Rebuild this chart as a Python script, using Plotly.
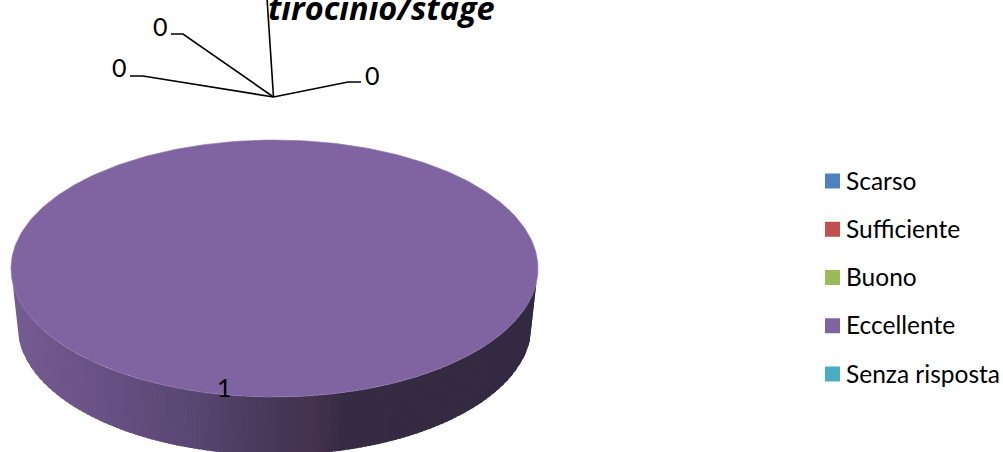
import numpy as np
import plotly.graph_objects as go

categories = ["Scarso", "Sufficiente", "Buono", "Eccellente", "Senza risposta"]
values = [0, 0, 0, 1, 0]
colors = ["#4F81BD", "#C0504D", "#9BBB59", "#8064A2", "#4BACC6"]
title_text = "tirocinio/stage"

W, H = 1003, 452
CX, CY, RX, RY = 274.5, 268.5, 263.5, 128.5
BCX, BCY, BRX, BRY = 274.5, 326, 257, 129
FONT = "Lato, Carlito, Calibri, sans-serif"

STOP_X = [17, 100, 200, 280, 320, 345, 538]
STOP_RGB = [(116, 91, 145), (104, 81, 133), (88, 69, 112), (70, 54, 86),
            (68, 49, 76), (54, 43, 68), (51, 41, 64)]


def lerp_color(x):
    c = [np.interp(x, STOP_X, [s[i] for s in STOP_RGB]) for i in range(3)]
    return "rgb(%d,%d,%d)" % tuple(int(round(v)) for v in c)


fig = go.Figure()
total = sum(values)
start = 0.0
for name, val, col in zip(categories, values, colors):
    if val == 0:
        continue
    sweep = 2 * np.pi * val / total
    a = np.linspace(start, start + sweep, 361)
    x_top = CX + RX * np.sin(a)
    y_top = CY - RY * np.cos(a)
    # side wall: vertical strips with a horizontal gradient, lower half only
    edges = np.linspace(-1, 1, 121)
    for k in range(len(edges) - 1):
        u = np.linspace(edges[k], min(edges[k + 1] + 0.01, 1), 5)
        xt = CX + RX * u
        yt = CY + RY * np.sqrt(1 - u ** 2)
        xb = BCX + BRX * u
        yb = BCY + BRY * np.sqrt(1 - u ** 2)
        fig.add_trace(go.Scatter(
            x=np.r_[xt, xb[::-1]], y=np.r_[yt, yb[::-1]], mode="lines",
            fill="toself", fillcolor=lerp_color(xt.mean()),
            line=dict(width=0), hoverinfo="skip", showlegend=False))
    fig.add_trace(go.Scatter(
        x=np.r_[x_top, CX] if sweep < 2 * np.pi else x_top,
        y=np.r_[y_top, CY] if sweep < 2 * np.pi else y_top,
        mode="lines", fill="toself", fillcolor=col,
        line=dict(color="#8F76AE", width=0.6), name=name, showlegend=False))
    start += sweep

# leader lines for the labels of the empty slices
LEADERS = [
    ([273.5, 183, 171], [97, 34, 34]),
    ([273.5, 143, 130], [97, 76, 76]),
    ([273.5, 348, 361], [97, 82, 82]),
    ([273.5, 267], [97, -2]),
]
for lx, ly in LEADERS:
    fig.add_trace(go.Scatter(x=lx, y=ly, mode="lines", cliponaxis=False,
                             line=dict(color="#000000", width=1.6),
                             hoverinfo="skip", showlegend=False))

# legend, drawn on the pixel grid so its wide spacing can be matched
LEG_X, LEG_TEXT_X, LEG_Y, LEG_STEP = 832.5, 844, 180, 48.25
annotations = []
for i, (name, col) in enumerate(zip(categories, colors)):
    fig.add_trace(go.Scatter(
        x=[LEG_X], y=[181 + LEG_STEP * i], mode="markers",
        marker=dict(symbol="square", size=15, color=col),
        name=name, showlegend=False))
    annotations.append(dict(
        x=LEG_TEXT_X, y=LEG_Y + LEG_STEP * i, text=name, showarrow=False,
        xanchor="left", xref="x", yref="y",
        font=dict(family=FONT, size=24.5, color="#000000")))

LABELS = [(160.5, 26, values[0]), (119.5, 67, values[1]), (372.5, 75, values[4]),
          (224, 387, values[3])]
annotations += [dict(x=x, y=y, text=str(v), showarrow=False, xref="x", yref="y",
                     font=dict(family=FONT, size=25, color="#000000"))
                for x, y, v in LABELS]
annotations.append(dict(
    x=381.5, y=7, text="<b><i>%s</i></b>" % title_text, showarrow=False,
    xref="x", yref="y",
    font=dict(family="Open Sans, sans-serif", size=32.5, color="#000000")))

fig.update_layout(
    width=W, height=H, margin=dict(l=0, r=0, t=0, b=0),
    paper_bgcolor="#FFFFFF", plot_bgcolor="#FFFFFF", showlegend=False,
    xaxis=dict(range=[0, W], visible=False, fixedrange=True),
    yaxis=dict(range=[H, 0], visible=False, fixedrange=True),
    annotations=annotations)
fig.write_html("out.html", config={"displayModeBar": False},
               post_script="document.body.style.margin='0';document.body.style.overflow='hidden';")
